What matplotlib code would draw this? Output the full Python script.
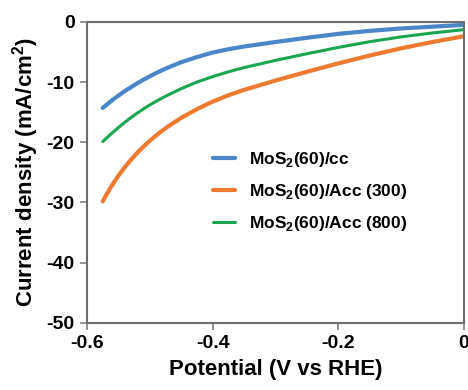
#!/usr/bin/env python3
"""LSV curves for MoS2(60) on cc and activated cc."""

import matplotlib

matplotlib.use("Agg")
import matplotlib.pyplot as plt

plt.rcParams["font.family"] = ["Liberation Sans", "DejaVu Sans"]
plt.rcParams["mathtext.fontset"] = "custom"
plt.rcParams["mathtext.rm"] = "Liberation Sans"
plt.rcParams["mathtext.bf"] = "Liberation Sans:bold"

# potential (V vs RHE) and current density (mA/cm2)
potential = [-0.575, -0.57, -0.56, -0.55, -0.54, -0.53, -0.52, -0.51, -0.50,
             -0.49, -0.48, -0.47, -0.45, -0.425, -0.40, -0.375, -0.35,
             -0.30, -0.25, -0.20, -0.15, -0.10, -0.05, 0.0]
j_cc = [-14.3, -13.87, -13.0, -12.25, -11.5, -10.85, -10.2, -9.6, -9.05,
        -8.5, -8.0, -7.55, -6.7, -5.85, -5.1, -4.55, -4.1,
        -3.35, -2.65, -2.0, -1.5, -1.1, -0.8, -0.5]
j_acc300 = [-29.8, -28.85, -27.1, -25.55, -24.15, -22.9, -21.75, -20.7, -19.75,
            -18.87, -18.05, -17.3, -15.95, -14.5, -13.25, -12.2, -11.3,
            -9.75, -8.3, -6.9, -5.6, -4.4, -3.35, -2.4]
j_acc800 = [-19.9, -19.4, -18.45, -17.55, -16.7, -15.9, -15.15, -14.45, -13.8,
            -13.2, -12.63, -12.1, -11.1, -10.0, -9.1, -8.3, -7.6,
            -6.4, -5.3, -4.25, -3.3, -2.5, -1.85, -1.3]

labels = [r"MoS$_\mathbf{2}$(60)/cc",
          r"MoS$_\mathbf{2}$(60)/Acc (300)",
          r"MoS$_\mathbf{2}$(60)/Acc (800)"]
colors = ["#4A86C8", "#EE7A30", "#1AA650"]

x_ticks = [-0.6, -0.4, -0.2, 0]
x_ticklabels = ["-0.6", "-0.4", "-0.2", "0"]
y_ticks = [0, -10, -20, -30, -40, -50]
y_ticklabels = ["0", "-10", "-20", "-30", "-40", "-50"]

fig = plt.figure(figsize=(4.68, 3.9), dpi=100)
ax = fig.add_axes([0.186, 0.172, 0.805, 0.772])

ax.plot(potential, j_cc, color=colors[0], lw=3.0, label=labels[0],
        solid_capstyle="round", solid_joinstyle="round")
ax.plot(potential, j_acc300, color=colors[1], lw=3.0, label=labels[1],
        solid_capstyle="round", solid_joinstyle="round")
ax.plot(potential, j_acc800, color=colors[2], lw=2.2, label=labels[2],
        solid_capstyle="round", solid_joinstyle="round")

ax.set_xlim(-0.6, 0)
ax.set_ylim(-50, 0)
ax.set_xticks(x_ticks)
ax.set_xticklabels(x_ticklabels, fontsize=14, fontweight="bold")
ax.set_yticks(y_ticks)
ax.set_yticklabels(y_ticklabels, fontsize=14, fontweight="bold")
ax.tick_params(direction="out", length=5, width=1.2, color="#808080", pad=4)

for spine in ax.spines.values():
    spine.set_color("#6E6E6E")
    spine.set_linewidth(1.5)

ax.set_xlabel("Potential (V vs RHE)", fontsize=16, fontweight="bold",
              labelpad=5)
ax.set_ylabel(r"Current density (mA/cm$^\mathbf{2}$)", fontsize=16,
              fontweight="bold", labelpad=4)

ax.legend(loc="upper left", bbox_to_anchor=(0.315, 0.598), frameon=False,
          prop={"size": 12.5, "weight": "bold"}, handlelength=1.3,
          handletextpad=0.8, labelspacing=0.75, borderaxespad=0)

fig.savefig("out.png", dpi=100)
